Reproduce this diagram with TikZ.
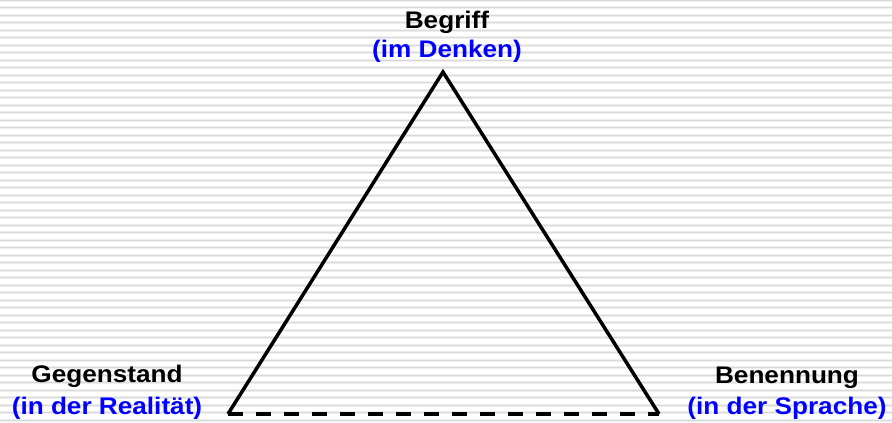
\documentclass[tikz,border=0pt]{standalone}
\usepackage{fontspec}
\setmainfont{Liberation Sans}[FakeStretch=1.09]
\usepackage{tikz}
\definecolor{stripegray}{HTML}{DADADA}
\definecolor{stripelight}{HTML}{EEEEEE}
\definecolor{labelblue}{HTML}{0000FF}
\tikzset{
  % Labels at the corners
  termlabel/.style={
    font=\fontsize{24}{28}\selectfont\bfseries, anchor=base,
    inner sep=0pt, text=#1,
  },
  termlabel/.default={black},
  % Triangle edges
  edgeline/.style={line width=3.5pt, line join=miter, #1},
  edgeline/.default={black},
}

\begin{document}
\begin{tikzpicture}[x=1pt, y=-1pt]
  \useasboundingbox (0,0) rectangle (892,423);

  % Striped background
  \fill[white] (0,0) rectangle (892,423);
  \foreach \i in {0,...,56} {
    \draw[stripelight, line width=3pt] (0,0.3+7.5*\i) -- (892,0.3+7.5*\i);
    \draw[stripegray, line width=1pt] (0,0.3+7.5*\i) -- (892,0.3+7.5*\i);
  }

  % Corners
  \coordinate (spitze) at (443,72);
  \coordinate (links) at (228,414);
  \coordinate (rechts) at (659,414);

  % Triangle
  \draw[edgeline] (links) -- (spitze) -- (rechts);
  \draw[edgeline, dash pattern=on 15pt off 13pt] (links) -- (rechts);

  % Labels
  \node[termlabel] (begriff) at (447,28) {Begriff};
  \node[termlabel=labelblue] (begriffort) at (447,57) {(im Denken)};

  \node[termlabel] (gegenstand) at (107,382) {Gegenstand};
  \node[termlabel=labelblue] (gegenstandort) at (107,414) {(in der Realität)};

  \node[termlabel] (benennung) at (787,383) {Benennung};
  \node[termlabel=labelblue] (benennungort) at (787,414) {(in der Sprache)};
\end{tikzpicture}
\end{document}
